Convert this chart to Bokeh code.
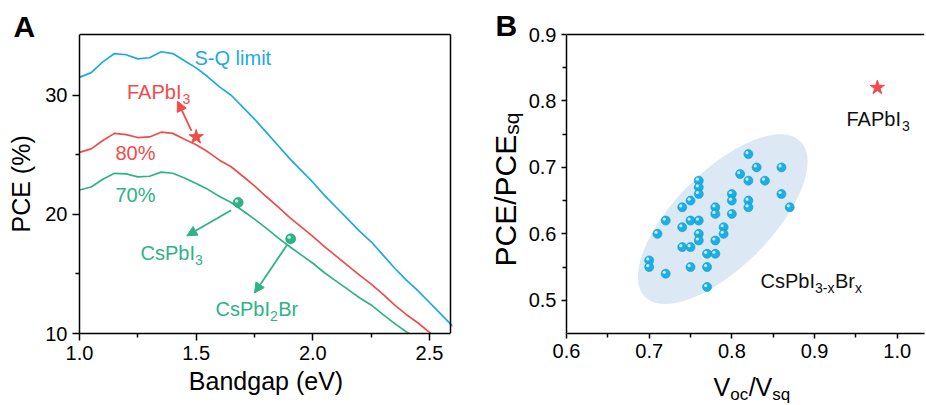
import math
from bokeh.plotting import figure
from bokeh.models import (Range1d, Label, Arrow, NormalHead, FixedTicker,
                          ColumnDataSource, Span)
from bokeh.layouts import row, column
from bokeh.transform import dodge
from bokeh.embed import file_html
from bokeh.resources import INLINE

FONT = "Liberation Sans"
BLUE = "#1cabe0"
RED = "#ef4c4c"
GREEN = "#2eb386"
CYAN = "#19b1e5"
ELL = "#dce8f4"

# ---------------- data : panel A ----------------
bandgap = [1.00, 1.05, 1.10, 1.15, 1.20, 1.25, 1.30, 1.35, 1.40, 1.45, 1.50,
           1.55, 1.60, 1.65, 1.70, 1.75, 1.80, 1.85, 1.90, 1.95, 2.00, 2.05,
           2.10, 2.15, 2.20, 2.25, 2.30, 2.35, 2.40, 2.45, 2.50, 2.55, 2.60]
sq_limit = [31.5, 31.9, 32.8, 33.5, 33.4, 33.05, 33.15, 33.65, 33.5, 32.9, 32.3,
            31.55, 30.7, 30.0, 29.0, 28.0, 26.9, 25.8, 24.7, 23.7, 22.7, 21.6,
            20.6, 19.6, 18.6, 17.7, 16.6, 15.5, 14.5, 13.6, 12.6, 11.6, 10.6]
pce_80 = [25.2, 25.5, 26.2, 26.8, 26.7, 26.45, 26.5, 26.9, 26.8, 26.3, 25.85,
          25.25, 24.55, 24.0, 23.2, 22.4, 21.5, 20.65, 19.75, 18.95, 18.15, 17.3,
          16.5, 15.7, 14.9, 14.15, 13.3, 12.4, 11.6, 10.9, 10.1, 9.3, 8.5]
pce_70 = [22.05, 22.3, 22.95, 23.45, 23.4, 23.15, 23.2, 23.55, 23.45, 23.05, 22.6,
          22.1, 21.5, 21.0, 20.3, 19.6, 18.85, 18.05, 17.3, 16.6, 15.9, 15.1,
          14.4, 13.7, 13.0, 12.4, 11.6, 10.85, 10.15, 9.5, 8.8, 8.1, 7.4]

fapbi3_a_x = [1.50]
fapbi3_a_y = [26.5]
cs_dot_x = [1.68, 1.905]
cs_dot_y = [21.0, 17.95]

fa_arrow = [1.48, 27.0, 1.42, 29.5]
cspbi3_arrow = [1.65, 20.35, 1.46, 18.2]
cspbi2br_arrow = [1.89, 17.45, 1.75, 13.4]

a_xticks = [1.0, 1.5, 2.0, 2.5]
a_xtick_labels = ["1.0", "1.5", "2.0", "2.5"]
a_xminor = [1.25, 1.75, 2.25]
a_yticks = [10, 20, 30]
a_ytick_labels = ["10", "20", "30"]
a_yminor = [15, 25]

# ---------------- data : panel B ----------------
voc_ratio = [0.70, 0.70, 0.71, 0.72, 0.72, 0.74, 0.74, 0.74, 0.75, 0.75,
             0.75, 0.75, 0.76, 0.76, 0.76, 0.76, 0.76, 0.76, 0.77, 0.77,
             0.77, 0.78, 0.78, 0.78, 0.78, 0.79, 0.79, 0.80, 0.80, 0.80,
             0.81, 0.82, 0.82, 0.82, 0.82, 0.83, 0.84, 0.86, 0.86, 0.87]
pce_ratio = [0.56, 0.55, 0.60, 0.62, 0.54, 0.64, 0.61, 0.58, 0.65, 0.62,
             0.58, 0.55, 0.68, 0.67, 0.66, 0.62, 0.60, 0.59, 0.57, 0.55,
             0.52, 0.64, 0.63, 0.59, 0.57, 0.61, 0.60, 0.66, 0.65, 0.63,
             0.69, 0.72, 0.68, 0.65, 0.64, 0.70, 0.68, 0.70, 0.66, 0.64]
fapbi3_b_x = [0.976]
fapbi3_b_y = [0.82]
cluster_x = [0.789]
cluster_y = [0.622]

b_xticks = [0.6, 0.7, 0.8, 0.9, 1.0]
b_xtick_labels = ["0.6", "0.7", "0.8", "0.9", "1.0"]
b_xminor = [0.65, 0.75, 0.85, 0.95]
b_yticks = [0.5, 0.6, 0.7, 0.8, 0.9]
b_ytick_labels = ["0.5", "0.6", "0.7", "0.8", "0.9"]
b_yminor = [0.55, 0.65, 0.75, 0.85]

# ---------------- layout geometry (window pixels) ----------------
H = 405
TA_W, PA_W, TB_W, PB_W = 40, 430, 55, 401       # sums to 926
PB_H, TBX_H = 370, 35
A_FRAME_LEFT = 79                                # window px
B_FRAME_LEFT = 566
BOX_TOP = 34                                     # window y of the plot boxes' top edge
FRAME_BOTTOM = 333
A_XBOX = (1.0, 2.59)                             # panel-A box in data units
A_YBOX = (10.0, 35.1)
B_XR = (0.6, 1.033)
B_YBOX = (0.45, 0.9)
A_BOXW = 371
A_FW = A_BOXW + 2                                # frame a little wider than the box
B_FW = 358
BOXH = FRAME_BOTTOM - BOX_TOP
B_X0 = TA_W + PA_W + TB_W                        # window x of panel-B figure

# frames reach the top of the canvas; ranges are extended to keep the box scale
a_xend = A_XBOX[0] + A_FW * (A_XBOX[1] - A_XBOX[0]) / A_BOXW
a_yend = A_YBOX[1] + BOX_TOP * (A_YBOX[1] - A_YBOX[0]) / BOXH
b_yend = B_YBOX[1] + BOX_TOP * (B_YBOX[1] - B_YBOX[0]) / BOXH


def mapper(x0win, boxw, xr, yr):
    def fx(px):
        return xr[0] + (px - x0win) * (xr[1] - xr[0]) / boxw
    def fy(py):
        return yr[0] + (FRAME_BOTTOM - py) * (yr[1] - yr[0]) / BOXH
    return fx, fy


ax_, ay_ = mapper(A_FRAME_LEFT, A_BOXW, A_XBOX, A_YBOX)
bx_, by_ = mapper(B_FRAME_LEFT, B_FW, B_XR, B_YBOX)

CW = {'A': .667, 'B': .667, 'C': .722, 'E': .667, 'F': .611, 'I': .278, 'P': .667,
      'Q': .778, 'S': .667, 'V': .667, 'b': .556, 'c': .5, 'e': .556, 'i': .222,
      'l': .222, 'm': .833, 'o': .556, 'q': .556, 'r': .333, 's': .5, 't': .278,
      'x': .5, '%': .889, '-': .333, '/': .278, ' ': .278, '(': .333, ')': .333}
MID = 0.35   # baseline lies this many em below the middle of the text box


def tw(s, size):
    return sum(CW.get(c, .556) for c in s) * size


def rich(p, x, y, parts, color, size=20, sub=14, drop=5, angle=0.0, style="normal",
         units="data"):
    """(x, y) is the start of the baseline of the first part."""
    off = 0.0
    for txt, is_sub in parts:
        fs = sub if is_sub else size
        down = (drop if is_sub else 0) - MID * fs      # anchor shift along text-down
        if angle == 0.0:
            xo, yo = off, -down
        else:
            xo, yo = down, off
        p.add_layout(Label(x=x, y=y, x_units=units, y_units=units,
                           x_offset=xo, y_offset=yo, text=txt,
                           text_font=FONT, text_font_size=f"{fs}px",
                           text_font_style=style, text_color=color,
                           text_baseline="middle", text_align="left",
                           angle=angle))
        off += tw(txt, fs) + (0.5 if is_sub else 0)


def text_fig(w, h):
    """A bare figure used only to hold texts that lie outside the plot frames."""
    t = figure(width=w, height=h, x_range=Range1d(0, w), y_range=Range1d(0, h),
               x_axis_type=None, y_axis_type=None, min_border=0,
               title=None, output_backend="svg", toolbar_location=None)
    t.grid.visible = False
    t.outline_line_color = None
    return t


def style_axes(p, tick_out):
    for ax in list(p.xaxis) + list(p.yaxis):
        ax.axis_line_width = 1.5
        ax.axis_line_color = "black"
        ax.major_tick_line_width = 1.5
        ax.major_tick_out = tick_out
        ax.major_tick_in = 0
        ax.minor_tick_line_width = 1.5
        ax.minor_tick_out = 4
        ax.minor_tick_in = 0
        ax.major_label_text_font = FONT
        ax.major_label_text_font_size = "20px"
        ax.major_label_text_color = "black"
        ax.axis_label_text_font = FONT
        ax.axis_label_text_font_style = "normal"
        ax.axis_label_text_color = "black"
        ax.major_label_standoff = 5


# ---------------- panel A ----------------
# texts in canvas units: pixels from the top-left corner of this figure's canvas
ta = text_fig(TA_W, H)
rich(ta, 13, 36, [("A", False)], "black", size=30, style="bold", units="canvas")
rich(ta, 29, 232, [("PCE (%)", False)], "black", size=25, angle=math.pi / 2, units="canvas")

pa = figure(width=PA_W, height=H, x_range=Range1d(A_XBOX[0], a_xend),
            y_range=Range1d(A_YBOX[0], a_yend),
            output_backend="svg", toolbar_location=None, title=None,
            min_border_left=A_FRAME_LEFT - TA_W,
            min_border_right=PA_W - (A_FRAME_LEFT - TA_W) - A_FW,
            min_border_top=0, min_border_bottom=H - FRAME_BOTTOM)
pa.grid.visible = False
pa.outline_line_color = None
style_axes(pa, 7)
pa.yaxis.bounds = A_YBOX
pa.xaxis.bounds = A_XBOX
pa.xaxis.ticker = FixedTicker(ticks=a_xticks, minor_ticks=a_xminor)
pa.yaxis.ticker = FixedTicker(ticks=a_yticks, minor_ticks=a_yminor)
pa.xaxis.major_label_overrides = dict(zip(a_xticks, a_xtick_labels))
pa.yaxis.major_label_overrides = dict(zip(a_yticks, a_ytick_labels))
pa.xaxis.axis_label = "Bandgap (eV)"
pa.xaxis.axis_label_text_font_size = "25px"
pa.xaxis.axis_label_standoff = 4
# top and right edges of the panel-A box (head-less arrows)
pa.add_layout(Arrow(x_start=A_XBOX[0], y_start=A_YBOX[1], x_end=A_XBOX[1], y_end=A_YBOX[1],
                    end=None, line_color="black", line_width=1.5))
pa.add_layout(Arrow(x_start=A_XBOX[1], y_start=A_YBOX[0], x_end=A_XBOX[1], y_end=A_YBOX[1],
                    end=None, line_color="black", line_width=1.5))

pa.line(bandgap, sq_limit, line_color=BLUE, line_width=1.7)
pa.line(bandgap, pce_80, line_color=RED, line_width=1.7)
pa.line(bandgap, pce_70, line_color=GREEN, line_width=1.7)

for arr, col in ((fa_arrow, RED), (cspbi3_arrow, GREEN), (cspbi2br_arrow, GREEN)):
    pa.add_layout(Arrow(x_start=arr[0], y_start=arr[1], x_end=arr[2], y_end=arr[3],
                        line_color=col, line_width=1.8,
                        end=NormalHead(size=10, fill_color=col, line_color=col)))

pa.scatter(fapbi3_a_x, fapbi3_a_y, marker="star", size=15, fill_color=RED, line_color=RED)
src_a = ColumnDataSource(dict(x=cs_dot_x, y=cs_dot_y))
pa.scatter("x", "y", source=src_a, size=10, fill_color=GREEN, line_color="#1f9670", line_width=0.6)
pa.scatter(x=dodge("x", -0.0065, range=pa.x_range), y=dodge("y", 0.13, range=pa.y_range),
           source=src_a, size=3.5, fill_color="white", fill_alpha=0.7, line_color=None)

rich(pa, ax_(194), ay_(64.5), [("S-Q limit", False)], BLUE)
rich(pa, ax_(126.5), ay_(98), [("FAPbI", False), ("3", True)], RED)
rich(pa, ax_(115), ay_(159.5), [("80%", False)], RED)
rich(pa, ax_(115), ay_(201), [("70%", False)], GREEN)
rich(pa, ax_(140), ay_(259), [("CsPbI", False), ("3", True)], GREEN)
rich(pa, ax_(215), ay_(315), [("CsPbI", False), ("2", True), ("Br", False)], GREEN)

# ---------------- panel B ----------------
tb = text_fig(TB_W, H)
rich(tb, 25, 35, [("B", False)], "black", size=30, style="bold", units="canvas")
rich(tb, 515 - TA_W - PA_W, 266, [("PCE/PCE", False), ("sq", True)],
     "black", size=30, sub=21, drop=3, angle=math.pi / 2, units="canvas")

pb = figure(width=PB_W, height=PB_H, x_range=Range1d(*B_XR), y_range=Range1d(B_YBOX[0], b_yend),
            output_backend="svg", toolbar_location=None, title=None,
            min_border_left=B_FRAME_LEFT - B_X0,
            min_border_right=PB_W - (B_FRAME_LEFT - B_X0) - B_FW,
            min_border_top=0, min_border_bottom=PB_H - FRAME_BOTTOM)
pb.grid.visible = False
pb.outline_line_color = None
style_axes(pb, 5)
pb.yaxis.bounds = B_YBOX
pb.xaxis.ticker = FixedTicker(ticks=b_xticks, minor_ticks=b_xminor)
pb.yaxis.ticker = FixedTicker(ticks=b_yticks, minor_ticks=b_yminor)
pb.xaxis.major_label_overrides = dict(zip(b_xticks, b_xtick_labels))
pb.yaxis.major_label_overrides = dict(zip(b_yticks, b_ytick_labels))
pb.add_layout(Span(location=B_YBOX[1], dimension="width", line_color="black", line_width=1.5))

pb.ellipse(x=cluster_x, y=cluster_y, width=220, height=96, angle=math.radians(45),
           width_units="screen", height_units="screen", fill_color=ELL, line_color=None)

src_b = ColumnDataSource(dict(x=voc_ratio, y=pce_ratio))
pb.scatter("x", "y", source=src_b, size=9, fill_color=CYAN, line_color="#0f95c6", line_width=0.6)
pb.scatter(x=dodge("x", -0.0017, range=pb.x_range), y=dodge("y", 0.0022, range=pb.y_range),
           source=src_b, size=3.2, fill_color="white", fill_alpha=0.75, line_color=None)
pb.scatter(fapbi3_b_x, fapbi3_b_y, marker="star", size=15, fill_color=RED, line_color=RED)

rich(pb, bx_(846), by_(125), [("FAPbI", False), ("3", True)], "#111111")
rich(pb, bx_(760), by_(287.5), [("CsPbI", False), ("3-x", True), ("Br", False), ("x", True)], "#111111")

tbx = text_fig(PB_W, TBX_H)
rich(tbx, 713 - B_X0, 395 - PB_H, [("V", False), ("oc", True), ("/V", False), ("sq", True)],
     "black", size=25, sub=17, drop=5, units="canvas")

layout = row(ta, pa, tb, column(pb, tbx))
open("out.html", "w").write(file_html(layout, INLINE))
